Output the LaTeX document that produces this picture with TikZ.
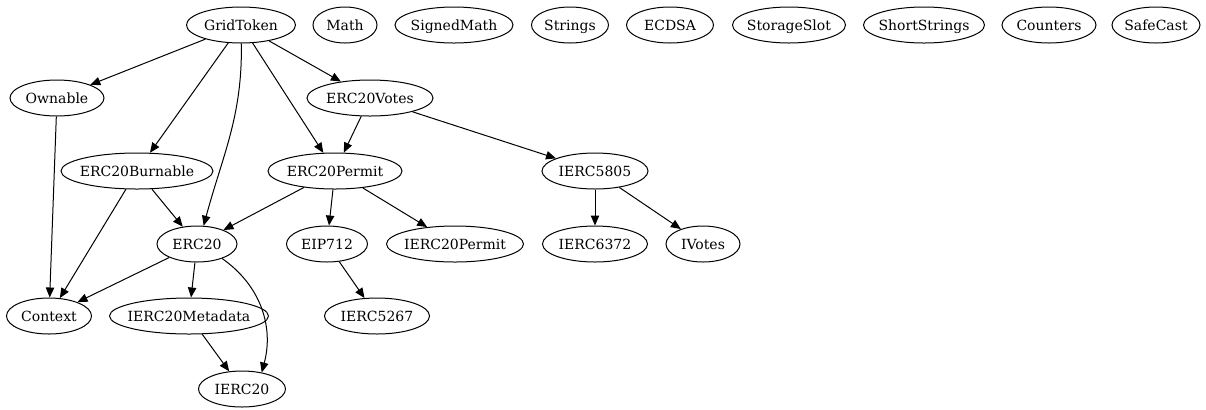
\documentclass[tikz,border=0pt]{standalone}
\usepackage{fontspec}
\setmainfont{DejaVu Serif}
\usetikzlibrary{shapes.geometric,arrows.meta}

\begin{document}
\begin{tikzpicture}[
x=0.5pt, y=-0.5pt,
lib/.style={draw, ellipse, line width=0.5pt, minimum height=18pt, minimum width=#1*0.5pt,
	inner xsep=-20pt, inner ysep=0pt, text height=5.1pt, text depth=0pt,
	font=\fontsize{7}{8}\selectfont},
dep/.style={line width=0.5pt, -{Triangle[length=5pt,width=4.2pt]}}
]

\useasboundingbox (0,0) rectangle (1206,409);

%%% top row
\node[lib=109] (GridToken) at (241,25) {GridToken};
\foreach \name/\x/\w in {Math/345/64, SignedMath/454/118, Strings/570/77, ECDSA/670/87,
	StorageSlot/789/113, ShortStrings/924/121, Counters/1049/94, SafeCast/1156/88}{
	\node[lib=\w] (\name) at (\x,25) {\name};
}

%%% contracts
\node[lib=94] (Ownable) at (57,98) {Ownable};
\node[lib=126] (ERC20Votes) at (370,98) {ERC20Votes};
\node[lib=152] (ERC20Burnable) at (137,171) {ERC20Burnable};
\node[lib=134] (ERC20Permit) at (335,171) {ERC20Permit};
\node[lib=106] (IERC5805) at (595,171) {IERC5805};
\node[lib=80] (ERC20) at (197,244) {ERC20};
\node[lib=81] (EIP712) at (327,244) {EIP712};
\node[lib=137] (IERC20Permit) at (455,244) {IERC20Permit};
\node[lib=105] (IERC6372) at (595,244) {IERC6372};
\node[lib=74] (IVotes) at (703,244) {IVotes};
\node[lib=85] (Context) at (49,316) {Context};
\node[lib=159] (IERC20Metadata) at (189,316) {IERC20Metadata};
\node[lib=105] (IERC5267) at (377,316) {IERC5267};
\node[lib=87] (IERC20) at (242,389) {IERC20};

%%% edges
\foreach \a/\b in {
	GridToken/Ownable,
	GridToken/ERC20Votes,
	GridToken/ERC20Burnable,
	GridToken/ERC20Permit,
	Ownable/Context,
	ERC20Votes/ERC20Permit,
	ERC20Votes/IERC5805,
	ERC20Burnable/ERC20,
	ERC20Burnable/Context,
	ERC20Permit/ERC20,
	ERC20Permit/EIP712,
	ERC20Permit/IERC20Permit,
	IERC5805/IERC6372,
	IERC5805/IVotes,
	ERC20/Context,
	ERC20/IERC20Metadata,
	IERC20Metadata/IERC20,
	EIP712/IERC5267}{
	\draw[dep] (\a) -- (\b);
}
\draw[dep] (GridToken.-89) to[out=-89, in=75] (ERC20.70);
\draw[dep] (ERC20.-30) to[out=-35, in=75] (IERC20.40);

\end{tikzpicture}
\end{document}
